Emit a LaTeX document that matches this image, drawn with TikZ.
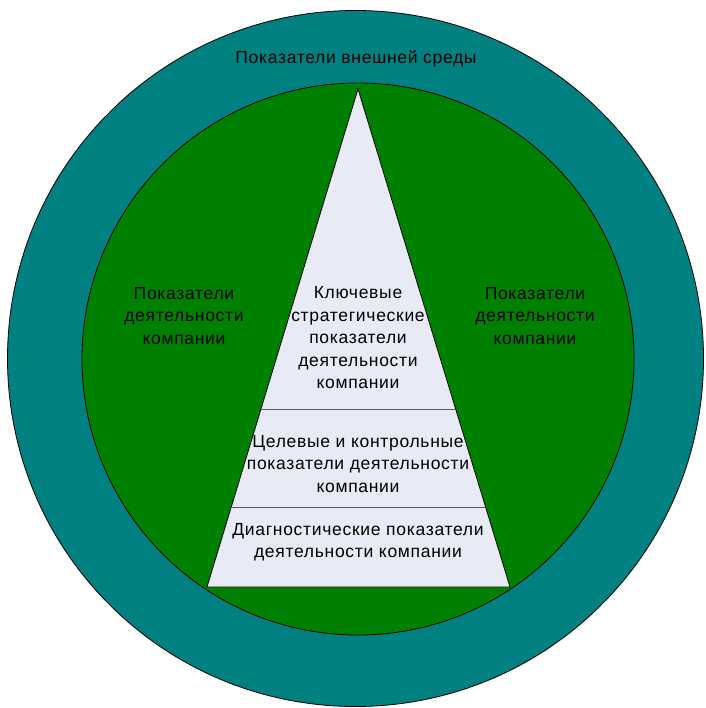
\documentclass[tikz,border=0pt]{standalone}
\usepackage{fontspec}
\setmainfont{Liberation Sans}
\newfontfamily\widesans[LetterSpace=4]{Liberation Sans}
\usetikzlibrary{calc}

\definecolor{outerteal}{HTML}{008080}
\definecolor{innergreen}{HTML}{008000}
\definecolor{pyrfill}{HTML}{E8EAF6}

\begin{document}
\begin{tikzpicture}[x=1pt, y=-1pt,
    lbl/.style={align=center, font=\widesans\fontsize{17.5}{22.5}\selectfont, inner sep=0pt},
    ring/.style={draw=black, line width=0.8pt}]
  \useasboundingbox (0,0) rectangle (705,708);

  % External environment
  \filldraw[ring, fill=outerteal] (355.5,358.5) circle (348);
  \node[lbl] (env) at (356,59) {Показатели внешней среды};

  % Company activity
  \filldraw[ring, fill=innergreen] (358,359) circle (276);
  \node[lbl] (actleft) at (184,316) {Показатели\\деятельности\\компании};
  \node[lbl] (actright) at (535,316) {Показатели\\деятельности\\компании};

  % Pyramid
  \coordinate (apex) at (358,89);
  \coordinate (bl) at (207,587);
  \coordinate (br) at (510,587);
  \filldraw[ring, fill=pyrfill] (apex) -- (bl) -- (br) -- cycle;
  \foreach \yy in {409,507}
    \draw[line width=0.9pt, black!65] ($(apex)!{(\yy-89)/498}!(bl)$) -- ($(apex)!{(\yy-89)/498}!(br)$);

  \node[lbl] (key) at (358,338) {Ключевые\\стратегические\\показатели\\деятельности\\компании};
  \node[lbl] (target) at (358,464) {Целевые и контрольные\\показатели деятельности\\компании};
  \node[lbl] (diag) at (358,542) {Диагностические показатели\\деятельности компании};
\end{tikzpicture}
\end{document}
